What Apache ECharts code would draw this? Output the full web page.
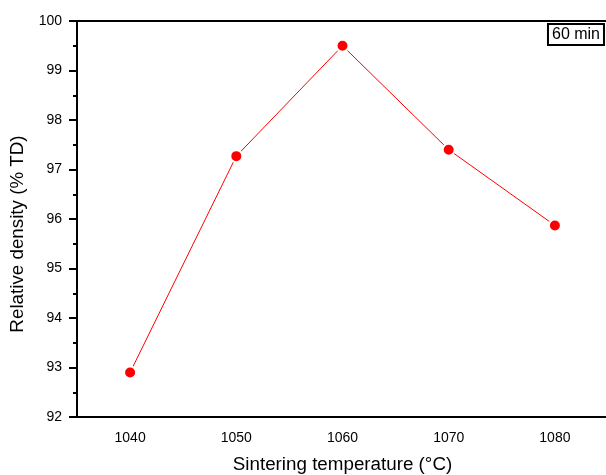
<!DOCTYPE html>
<html>
<head>
<meta charset="utf-8">
<script src="https://cdn.jsdelivr.net/npm/echarts@6/dist/echarts.min.js"></script>
<style>
  html, body { margin: 0; padding: 0; background: #fff; }
  #chart { width: 606px; height: 475px; }
</style>
</head>
<body>
<div id="chart"></div>
<script>
// sintering temperature (°C) vs relative density (% TD)
const temperatures = ['1040', '1050', '1060', '1070', '1080']
const density = [92.90, 97.27, 99.50, 97.40, 95.87]

const chart = echarts.init(document.getElementById('chart'))
const font = 'Liberation Sans, Arial, sans-serif'

const option = {
  animation: false,
  backgroundColor: '#fff',
  title: {
    text: '60 min',
    right: 2,
    top: 24,
    padding: [3, 4, 2, 4],
    borderColor: '#000',
    borderWidth: 2,
    textStyle: { fontFamily: font, fontSize: 16, fontWeight: 'normal', color: '#000' }
  },
  grid: { left: 77, top: 21, bottom: 58, width: 531, outerBoundsMode: 'none' },
  xAxis: [{
    type: 'category',
    data: temperatures,
    boundaryGap: true,
    name: 'Sintering temperature (°C)',
    nameLocation: 'middle',
    nameGap: 38,
    nameTextStyle: { fontFamily: font, fontSize: 18.8, color: '#000' },
    axisLine: { lineStyle: { color: '#000', width: 2 } },
    axisTick: { alignWithLabel: true, length: 7, lineStyle: { color: '#000', width: 2 } },
    axisLabel: { fontFamily: font, fontSize: 14, color: '#000', margin: 14 },
    splitLine: { show: false }
  }, {
    type: 'category',
    data: temperatures,
    position: 'top',
    axisLine: { lineStyle: { color: '#000', width: 2 } },
    axisTick: { show: false },
    axisLabel: { show: false },
    splitLine: { show: false }
  }],
  yAxis: {
    type: 'value',
    min: 92,
    max: 100,
    interval: 1,
    name: 'Relative density (% TD)',
    nameLocation: 'middle',
    nameGap: 48,
    nameTextStyle: { fontFamily: font, fontSize: 18.8, color: '#000', padding: [0, 30, 0, 0] },
    axisLine: { show: true, lineStyle: { color: '#000', width: 2 } },
    axisTick: { show: true, length: 8, lineStyle: { color: '#000', width: 2 } },
    minorTick: { show: true, splitNumber: 2, length: 4, lineStyle: { color: '#000', width: 2 } },
    axisLabel: { fontFamily: font, fontSize: 14, color: '#000', margin: 15 },
    splitLine: { show: false }
  },
  series: [{
    type: 'line',
    data: density,
    symbol: 'circle',
    symbolSize: 12,
    lineStyle: { color: '#ff0000', width: 1 },
    itemStyle: { color: '#ff0000', borderColor: '#fff', borderWidth: 2 },
    z: 3
  }]
}

chart.setOption(option)
</script>
</body>
</html>
